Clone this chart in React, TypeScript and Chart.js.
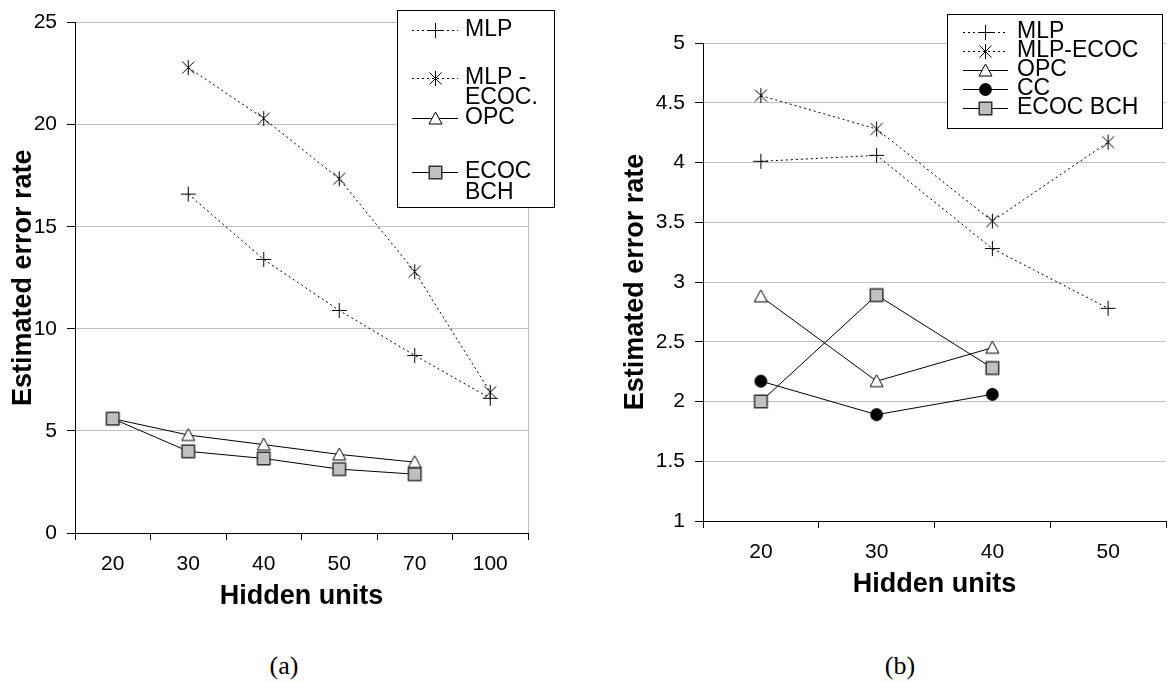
import React, { useEffect, useRef } from 'react';
import { Chart, registerables } from 'chart.js';

Chart.register(...registerables);

// ---------- data ----------
const leftCategories = ['20', '30', '40', '50', '70', '100'];
const leftMLP = [null, 16.6, 13.4, 10.9, 8.7, 6.6];
const leftMLPECOC = [null, 22.8, 20.3, 17.35, 12.8, 6.9];
const leftOPC = [5.6, 4.8, 4.33, 3.85, 3.47, null];
const leftECOCBCH = [5.6, 4.0, 3.65, 3.13, 2.88, null];
const leftYMin = 0;
const leftYMax = 25;
const leftYStep = 5;

const rightCategories = ['20', '30', '40', '50'];
const rightMLP = [4.01, 4.06, 3.28, 2.78];
const rightMLPECOC = [4.56, 4.28, 3.51, 4.17];
const rightOPC = [2.88, 2.17, 2.45, null];
const rightCC = [2.17, 1.89, 2.06, null];
const rightECOCBCH = [2.0, 2.89, 2.28, null];
const rightYMin = 1;
const rightYMax = 5;
const rightYStep = 0.5;

const leftLegendLines = [['MLP'], ['MLP -', 'ECOC.'], ['OPC'], ['ECOC', 'BCH']];
const rightLegendLines = [['MLP'], ['MLP-ECOC'], ['OPC'], ['CC'], ['ECOC BCH']];

const FONT = '"Liberation Sans", Arial, sans-serif';
const GRID = '#c0c0c0';

type MarkerKind = 'plus' | 'star' | 'triangle' | 'circle' | 'square';

function makeMarker(kind: MarkerKind): HTMLCanvasElement {
  const c = document.createElement('canvas');
  const s = 17;
  c.width = s;
  c.height = s;
  const g = c.getContext('2d')!;
  g.lineWidth = 1;
  g.strokeStyle = '#000';
  const m = 8.5;
  if (kind === 'plus') {
    g.beginPath();
    g.moveTo(1, m); g.lineTo(16, m);
    g.moveTo(m, 1); g.lineTo(m, 16);
    g.stroke();
  } else if (kind === 'star') {
    g.beginPath();
    g.moveTo(2.5, 2.5); g.lineTo(14.5, 14.5);
    g.moveTo(14.5, 2.5); g.lineTo(2.5, 14.5);
    g.moveTo(m, 1); g.lineTo(m, 16);
    g.stroke();
  } else if (kind === 'triangle') {
    g.beginPath();
    g.moveTo(m, 2); g.lineTo(15, 14); g.lineTo(2, 14); g.closePath();
    g.fillStyle = '#fff';
    g.fill();
    g.stroke();
  } else if (kind === 'circle') {
    g.beginPath();
    g.arc(m, m, 6.4, 0, Math.PI * 2);
    g.fillStyle = '#000';
    g.fill();
  } else {
    g.fillStyle = '#c0c0c0';
    g.fillRect(2, 2, 13, 13);
    g.strokeStyle = '#333';
    g.lineWidth = 1.5;
    g.strokeRect(2.25, 2.25, 12.5, 12.5);
  }
  return c;
}

type LegendCfg = {
  box: [number, number, number, number];
  lineX: [number, number];
  textX: number;
  rows: number[][];
  lines: string[][];
  markers: MarkerKind[];
  dotted: boolean[];
};

function legendPlugin(cfg: LegendCfg, markerMap: Record<string, HTMLCanvasElement>) {
  return {
    id: 'customLegend',
    afterDraw(chart: any) {
      const ctx: CanvasRenderingContext2D = chart.ctx;
      ctx.save();
      const [bx, by, bw, bh] = cfg.box;
      ctx.fillStyle = '#fff';
      ctx.fillRect(bx, by, bw, bh);
      ctx.strokeStyle = '#000';
      ctx.lineWidth = 1;
      ctx.setLineDash([]);
      ctx.strokeRect(bx + 0.5, by + 0.5, bw, bh);
      ctx.font = `23px ${FONT}`;
      ctx.textBaseline = 'middle';
      ctx.textAlign = 'left';
      cfg.lines.forEach((lines, i) => {
        const ys = cfg.rows[i];
        const y0 = Math.round(ys[0]) + 0.5;
        ctx.beginPath();
        ctx.strokeStyle = '#000';
        ctx.lineWidth = 1;
        ctx.setLineDash(cfg.dotted[i] ? [2, 3] : []);
        ctx.moveTo(cfg.lineX[0], y0);
        ctx.lineTo(cfg.lineX[1], y0);
        ctx.stroke();
        ctx.setLineDash([]);
        const mk = markerMap[cfg.markers[i]];
        const cx = (cfg.lineX[0] + cfg.lineX[1]) / 2;
        ctx.drawImage(mk, Math.round(cx - mk.width / 2), Math.round(y0 - mk.height / 2));
        ctx.fillStyle = '#000';
        lines.forEach((t, k) => ctx.fillText(t, cfg.textX, ys[k]));
      });
      ctx.restore();
    },
  };
}

function lineDataset(label: string, data: (number | null)[], marker: HTMLCanvasElement, dotted: boolean, order: number) {
  return {
    label,
    data,
    borderColor: '#000',
    backgroundColor: '#000',
    borderWidth: 1,
    borderDash: dotted ? [2, 3] : [],
    pointStyle: marker,
    pointRadius: 8,
    pointHoverRadius: 8,
    fill: false,
    tension: 0,
    spanGaps: false,
    order,
  };
}

function scales(opts: {
  yMin: number; yMax: number; yStep: number; yWidth: number; yTitlePad: number; xGridLast: boolean;
}) {
  return {
    x: {
      type: 'category',
      offset: true,
      grid: {
        offset: true,
        drawOnChartArea: true,
        color: (c: any) => (c.tick || !opts.xGridLast ? 'rgba(0,0,0,0)' : GRID),
        tickColor: '#000',
        tickLength: 7,
        lineWidth: 1,
      },
      border: { color: '#000', width: 1, z: 1 },
      ticks: {
        color: '#000',
        font: { family: FONT, size: 21 },
        padding: 12,
        maxRotation: 0,
        autoSkip: false,
      },
      title: {
        display: true,
        text: 'Hidden units',
        color: '#000',
        font: { family: FONT, size: 27, weight: 'bold' },
        padding: { top: 0, bottom: 7 },
      },
      afterFit: (s: any) => {
        s.height = 87;
      },
    },
    y: {
      type: 'linear',
      min: opts.yMin,
      max: opts.yMax,
      ticks: {
        stepSize: opts.yStep,
        color: '#000',
        font: { family: FONT, size: 21 },
        padding: 10,
        callback: (v: any) => String(Number(v)),
      },
      grid: { color: GRID, tickColor: '#000', tickLength: 8, lineWidth: 1 },
      border: { color: '#000', width: 1, z: 1 },
      title: {
        display: true,
        text: 'Estimated error rate',
        color: '#000',
        font: { family: FONT, size: 27, weight: 'bold' },
        padding: { top: opts.yTitlePad, bottom: 0 },
      },
      afterFit: (s: any) => {
        s.width = opts.yWidth;
      },
    },
  };
}

export default function App() {
  const leftRef = useRef<HTMLCanvasElement>(null);
  const rightRef = useRef<HTMLCanvasElement>(null);

  useEffect(() => {
    Chart.defaults.font.family = FONT;
    const markers: Record<string, HTMLCanvasElement> = {
      plus: makeMarker('plus'),
      star: makeMarker('star'),
      triangle: makeMarker('triangle'),
      circle: makeMarker('circle'),
      square: makeMarker('square'),
    };

    const leftChart = new Chart(leftRef.current!, {
      type: 'line',
      data: {
        labels: leftCategories,
        datasets: [
          lineDataset('MLP', leftMLP, markers.plus, true, 3),
          lineDataset('MLP - ECOC.', leftMLPECOC, markers.star, true, 4),
          lineDataset('OPC', leftOPC, markers.triangle, false, 2),
          lineDataset('ECOC BCH', leftECOCBCH, markers.square, false, 0),
        ] as any,
      },
      options: {
        responsive: false,
        animation: false,
        events: [],
        layout: { padding: { top: 13, right: 32, left: 0, bottom: 0 } },
        plugins: { legend: { display: false }, tooltip: { enabled: false } },
        scales: scales({ yMin: leftYMin, yMax: leftYMax, yStep: leftYStep, yWidth: 75, yTitlePad: 7, xGridLast: true }) as any,
      },
      plugins: [
        legendPlugin(
          {
            box: [397, 10, 157, 197],
            lineX: [412, 458],
            textX: 465,
            rows: [[30], [78, 98], [118], [172, 193]],
            lines: leftLegendLines,
            markers: ['plus', 'star', 'triangle', 'square'],
            dotted: [true, true, false, false],
          },
          markers,
        ),
      ],
    });

    const rightChart = new Chart(rightRef.current!, {
      type: 'line',
      data: {
        labels: rightCategories,
        datasets: [
          lineDataset('MLP', rightMLP, markers.plus, true, 4),
          lineDataset('MLP-ECOC', rightMLPECOC, markers.star, true, 5),
          lineDataset('OPC', rightOPC, markers.triangle, false, 2),
          lineDataset('CC', rightCC, markers.circle, false, 1),
          lineDataset('ECOC BCH', rightECOCBCH, markers.square, false, 0),
        ] as any,
      },
      options: {
        responsive: false,
        animation: false,
        events: [],
        layout: { padding: { top: 43, right: 0, left: 0, bottom: 0 } },
        plugins: { legend: { display: false }, tooltip: { enabled: false } },
        scales: scales({ yMin: rightYMin, yMax: rightYMax, yStep: rightYStep, yWidth: 103, yTitlePad: 19, xGridLast: false }) as any,
      },
      plugins: [
        legendPlugin(
          {
            box: [347, 14, 215, 114],
            lineX: [363, 408],
            textX: 417,
            rows: [[32], [51], [70], [89], [108]],
            lines: rightLegendLines,
            markers: ['plus', 'star', 'triangle', 'circle', 'square'],
            dotted: [true, true, false, false, false],
          },
          markers,
        ),
      ],
    });

    return () => {
      leftChart.destroy();
      rightChart.destroy();
    };
  }, []);

  const caption: React.CSSProperties = {
    position: 'absolute',
    width: 100,
    textAlign: 'center',
    fontFamily: '"Liberation Serif", "Times New Roman", serif',
    fontSize: 26,
    lineHeight: '26px',
    color: '#000',
  };

  return (
    <div style={{ position: 'fixed', left: 0, top: 0, width: 1175, height: 683, background: '#fff', overflow: 'hidden' }}>
      <canvas ref={leftRef} width={560} height={620} style={{ position: 'absolute', left: 0, top: 0, width: 560, height: 620 }} />
      <canvas ref={rightRef} width={575} height={608} style={{ position: 'absolute', left: 600, top: 0, width: 575, height: 608 }} />
      <div style={{ ...caption, left: 234, top: 653 }}>(a)</div>
      <div style={{ ...caption, left: 850, top: 653 }}>(b)</div>
    </div>
  );
}
